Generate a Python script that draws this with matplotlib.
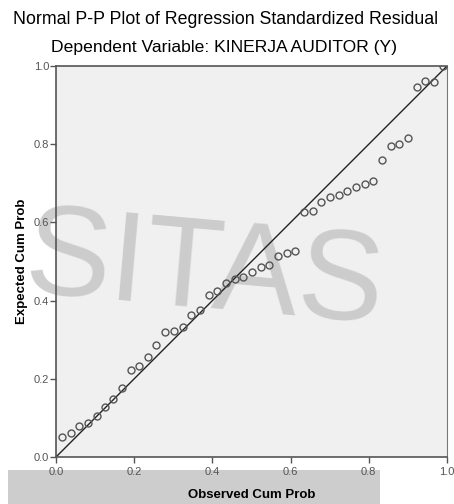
import matplotlib
matplotlib.use("Agg")
import matplotlib.pyplot as plt
from matplotlib.patches import Rectangle

# observed vs expected cumulative probabilities
observed = [0.015, 0.038, 0.059, 0.081, 0.104, 0.126, 0.147, 0.169, 0.191, 0.213,
            0.235, 0.257, 0.280, 0.302, 0.324, 0.346, 0.368, 0.391, 0.413, 0.436,
            0.458, 0.479, 0.501, 0.524, 0.546, 0.568, 0.590, 0.612, 0.635, 0.657,
            0.679, 0.701, 0.723, 0.745, 0.767, 0.790, 0.812, 0.834, 0.856, 0.878,
            0.900, 0.923, 0.945, 0.967, 0.989]
expected = [0.050, 0.061, 0.079, 0.088, 0.104, 0.127, 0.148, 0.176, 0.222, 0.233,
            0.257, 0.286, 0.319, 0.321, 0.332, 0.362, 0.375, 0.414, 0.425, 0.444,
            0.456, 0.461, 0.473, 0.487, 0.491, 0.515, 0.523, 0.528, 0.626, 0.629,
            0.653, 0.666, 0.670, 0.680, 0.691, 0.698, 0.706, 0.760, 0.795, 0.801,
            0.815, 0.946, 0.961, 0.959, 0.999]
ticks = [0.0, 0.2, 0.4, 0.6, 0.8, 1.0]
tick_labels = ["0.0", "0.2", "0.4", "0.6", "0.8", "1.0"]

plt.rcParams['font.family'] = ['Liberation Sans', 'DejaVu Sans']

fig = plt.figure(figsize=(4.54, 5.04), dpi=100)
fig.patch.set_facecolor('white')

ax_rect = [56/454, 47/504, 391/454, 391/504]

# grey band behind the x label and the plot background
fig.patches.append(Rectangle((8/454, 0), 372/454, 34/504, transform=fig.transFigure,
                             facecolor='#cdcdcd', edgecolor='none', zorder=-3))
fig.patches.append(Rectangle(ax_rect[:2], ax_rect[2], ax_rect[3], transform=fig.transFigure,
                             facecolor='#f0f0f0', edgecolor='none', zorder=-3))

# scanned watermark behind the plot
fig.text(0.045, 0.455, "SITAS", fontsize=92, color='#c6c6c6', alpha=0.85,
         rotation=-5, zorder=-2, va='center', ha='left')

ax = fig.add_axes(ax_rect)
ax.set_facecolor('none')

ax.plot([0, 1], [0, 1], color='#222222', lw=1, zorder=2)
ax.plot(observed, expected, linestyle='none', marker='o', markersize=5,
        markerfacecolor='none', markeredgecolor='#555555', markeredgewidth=1, zorder=3)

ax.set_xlim(0, 1)
ax.set_ylim(0, 1)
ax.set_xticks(ticks)
ax.set_xticklabels(tick_labels)
ax.set_yticks(ticks)
ax.set_yticklabels(tick_labels)
ax.tick_params(direction='out', length=4, width=1, colors='#555555', labelsize=8, pad=1)
ax.tick_params(axis='x', pad=3)

for side in ['left', 'bottom', 'top']:
    ax.spines[side].set_color('#555555')
    ax.spines[side].set_linewidth(1.2)
ax.spines['right'].set_color('#777777')

ax.set_xlabel('Observed Cum Prob', fontsize=9.5, fontweight='bold', labelpad=9)
ax.set_ylabel('Expected Cum Prob', fontsize=9.5, fontweight='bold', labelpad=4)

fig.text(0.496, 0.962, 'Normal P-P Plot of Regression Standardized Residual',
         ha='center', va='center', fontsize=12.8)
fig.text(0.494, 0.905, 'Dependent Variable: KINERJA AUDITOR (Y)',
         ha='center', va='center', fontsize=12.6)

fig.savefig('out.png', dpi=100)
